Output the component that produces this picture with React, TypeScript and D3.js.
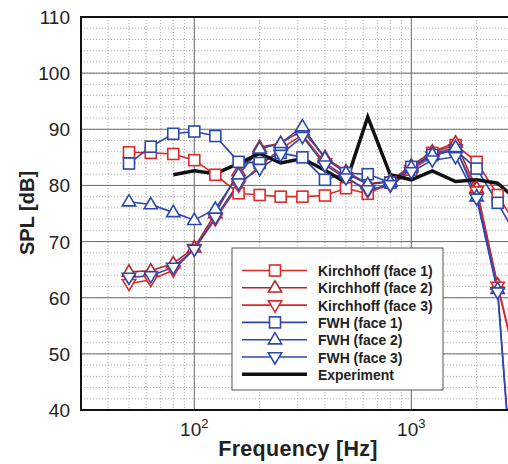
import React from "react";
import * as d3 from "d3";

const freqs = [50, 63, 80, 100, 125, 160, 200, 250, 315, 400, 500, 630, 800, 1000, 1250, 1600, 2000, 2500, 3150];
const kirch1 = [85.9, 85.8, 85.6, 84.5, 81.9, 78.6, 78.3, 78.0, 78.0, 78.2, 79.5, 78.5, 80.5, 82.8, 85.8, 87.2, 84.2, 78.3, 72];
const kirch2 = [64.6, 64.8, 66.1, 68.9, 75.0, 82.5, 86.8, 87.5, 89.8, 85.0, 82.5, 80.3, 80.8, 83.5, 86.0, 87.6, 79.5, 62.3, 46];
const kirch3 = [62.5, 63.2, 64.9, 68.7, 74.0, 80.0, 83.5, 86.5, 89.0, 84.0, 81.5, 79.0, 80.0, 82.8, 85.2, 86.5, 79.0, 62.0, 46];
const fwh1 = [83.9, 86.9, 89.2, 89.6, 88.8, 84.2, 84.0, 85.8, 85.0, 81.0, 82.2, 82.0, 80.5, 83.3, 85.4, 86.3, 83.0, 76.9, 70];
const fwh2 = [77.1, 76.6, 75.2, 73.8, 75.8, 81.9, 86.5, 87.5, 90.5, 84.8, 82.2, 80.2, 80.6, 83.2, 85.5, 86.8, 78.0, 61.5, 10];
const fwh3 = [63.6, 63.9, 65.4, 68.6, 74.3, 80.4, 83.0, 85.5, 88.7, 83.6, 81.3, 79.2, 80.1, 82.4, 84.5, 85.1, 77.7, 61.0, 10];
const expFreqs = [80, 100, 125, 160, 200, 250, 315, 400, 500, 630, 800, 1000, 1250, 1600, 2000, 2500, 3150];
const expVals = [81.9, 82.6, 82.1, 83.9, 85.7, 84.0, 84.8, 82.7, 80.5, 92.2, 81.9, 81.0, 82.6, 80.7, 81.0, 80.4, 77];
const yTicks = [40, 50, 60, 70, 80, 90, 100, 110];
const xTickExps = [2, 3];
const legendLabels = ["Kirchhoff (face 1)", "Kirchhoff (face 2)", "Kirchhoff (face 3)", "FWH (face 1)", "FWH (face 2)", "FWH (face 3)", "Experiment"];

const RED = "#e02828";
const DRED = "#b3262b";
const BLUE = "#2b47b0";

type Series = { vals: number[]; color: string; marker: "sq" | "up" | "down" };
const series: Series[] = [
  { vals: kirch1, color: RED, marker: "sq" },
  { vals: kirch2, color: DRED, marker: "up" },
  { vals: kirch3, color: RED, marker: "down" },
  { vals: fwh1, color: BLUE, marker: "sq" },
  { vals: fwh2, color: BLUE, marker: "up" },
  { vals: fwh3, color: BLUE, marker: "down" },
];

function Marker({ x, y, kind, color }: { x: number; y: number; kind: string; color: string }) {
  const s = 5.5;
  if (kind === "sq") {
    return <rect x={x - s} y={y - s} width={2 * s} height={2 * s} fill="white" stroke={color} strokeWidth={1.6} />;
  }
  const t = 7;
  const pts =
    kind === "up"
      ? [[x, y - t], [x - t * 0.95, y + t * 0.6], [x + t * 0.95, y + t * 0.6]]
      : [[x, y + t], [x - t * 0.95, y - t * 0.6], [x + t * 0.95, y - t * 0.6]];
  return <polygon points={pts.map((p) => p.join(",")).join(" ")} fill="white" stroke={color} strokeWidth={1.6} />;
}

export default function App() {
  const W = 508, H = 464;
  const left = 81, top = 17, bottom = 410, right = 508;
  const dec = 217;
  const x = d3.scaleLog().domain([100, 1000]).range([194.3, 194.3 + dec]);
  const y = d3.scaleLinear().domain([40, 110]).range([bottom, top]);
  const xMin = x.invert(left);
  const line = d3.line<[number, number]>().x((d) => x(d[0])).y((d) => y(d[1]));

  const minorX: number[] = [];
  for (let e = 1; e <= 3; e++) {
    for (let m = 1; m <= 9; m++) {
      const f = m * Math.pow(10, e);
      if (f > xMin + 0.01 && x(f) < right) minorX.push(f);
    }
  }
  const minorY = d3.range(40, 111, 2);

  return (
    <svg width={W} height={H} style={{ position: "absolute", left: 0, top: 0, background: "white" }} fontFamily="Liberation Sans, Arial, sans-serif">
      <defs>
        <clipPath id="plot">
          <rect x={left} y={top} width={right - left + 20} height={bottom - top} />
        </clipPath>
      </defs>
      {minorY.map((v) => (
        <line key={"my" + v} x1={left} x2={right} y1={y(v)} y2={y(v)} stroke="#9a9a9a" strokeWidth={0.8} strokeDasharray="1.2,1.8" />
      ))}
      {minorX.map((f) => (
        <line key={"mx" + f} x1={x(f)} x2={x(f)} y1={top} y2={bottom} stroke="#9a9a9a" strokeWidth={0.8} strokeDasharray="1.2,1.8" />
      ))}
      {yTicks.map((v) => (
        <line key={"gy" + v} x1={left} x2={right} y1={y(v)} y2={y(v)} stroke="#6e6e6e" strokeWidth={1} />
      ))}
      {xTickExps.map((e) => (
        <line key={"gx" + e} x1={x(Math.pow(10, e))} x2={x(Math.pow(10, e))} y1={top} y2={bottom} stroke="#6e6e6e" strokeWidth={1} />
      ))}
      <g clipPath="url(#plot)">
        {series.map((s, i) => (
          <path key={"l" + i} d={line(freqs.map((f, j) => [f, s.vals[j]]) as [number, number][]) || ""} fill="none" stroke={s.color} strokeWidth={1.6} />
        ))}
        <path d={line(expFreqs.map((f, j) => [f, expVals[j]]) as [number, number][]) || ""} fill="none" stroke="#111" strokeWidth={3.5} strokeLinejoin="miter" />
        {series.map((s, i) =>
          freqs.map((f, j) =>
            s.vals[j] >= 40 ? <Marker key={"m" + i + "_" + j} x={x(f)} y={y(s.vals[j])} kind={s.marker} color={s.color} /> : null
          )
        )}
      </g>
      <line x1={left} x2={right} y1={top} y2={top} stroke="#111" strokeWidth={2} />
      <line x1={left} x2={right} y1={bottom} y2={bottom} stroke="#111" strokeWidth={2} />
      <line x1={left} x2={left} y1={top - 1} y2={bottom + 1} stroke="#111" strokeWidth={2} />
      {yTicks.map((v) => (
        <text key={"ty" + v} x={70} y={y(v) + 7} textAnchor="end" fontSize={19} fill="#222">
          {v}
        </text>
      ))}
      {xTickExps.map((e) => (
        <text key={"tx" + e} x={x(Math.pow(10, e))} y={436} textAnchor="middle" fontSize={19} fill="#222">
          10<tspan dy={-8} fontSize={13}>{e}</tspan>
        </text>
      ))}
      <text x={298} y={456} textAnchor="middle" fontSize={21.5} fontWeight="bold" fill="#222" letterSpacing={0.3}>
        Frequency [Hz]
      </text>
      <text transform="translate(34,213) rotate(-90)" textAnchor="middle" fontSize={20} fontWeight="bold" fill="#222">
        SPL [dB]
      </text>
      <rect x={232} y={248} width={211} height={142} fill="white" stroke="#555" strokeWidth={1} />
      {legendLabels.map((lab, i) => {
        const ly = 270.5 + i * 17.3;
        const s = series[i];
        return (
          <g key={"lg" + i}>
            {s ? (
              <>
                <line x1={242} x2={307} y1={ly} y2={ly} stroke={s.color} strokeWidth={1.6} />
                <Marker x={275} y={ly} kind={s.marker} color={s.color} />
              </>
            ) : (
              <line x1={242} x2={307} y1={ly} y2={ly} stroke="#111" strokeWidth={3.5} />
            )}
            <text transform={`translate(318,${ly + 5.5}) scale(0.9,1)`} fontSize={15.5} fontWeight="bold" fill="#222">
              {lab}
            </text>
          </g>
        );
      })}
    </svg>
  );
}
